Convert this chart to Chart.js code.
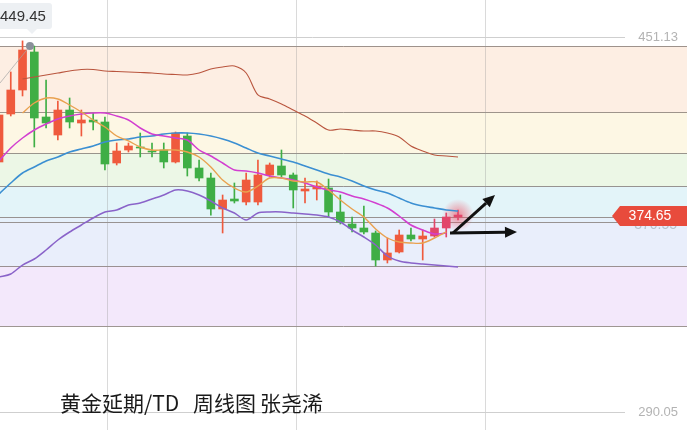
<!DOCTYPE html>
<html>
<head>
<meta charset="utf-8">
<title>黄金延期/TD 周线图</title>
<script src="https://cdn.jsdelivr.net/npm/chart.js"></script>
<style>
  html, body { margin: 0; padding: 0; background: #fff; }
</style>
</head>
<body>
<canvas id="kline" width="690" height="430"></canvas>
<script>
// weekly candles
const opens  = [397.44,418.05,428.36,444.69,416.77,409.03,419.77,414.19,415.48,414.62,397.01,402.59,403.88,402.16,402.59,397.44,408.60,394.86,390.56,377.25,381.54,380.25,380.25,391.85,395.72,391.85,384.98,385.84,386.27,375.96,370.80,369.09,366.94,355.34,358.78,366.08,364.36,365.65,369.09,373.81];
const highs  = [418.91,436.10,449.45,447.26,432.66,423.64,424.93,419.77,418.48,416.77,405.60,405.60,409.89,405.60,405.60,410.32,409.89,398.30,392.71,383.26,388.42,392.71,398.30,397.01,402.59,392.71,390.56,389.27,390.13,383.26,373.81,378.54,367.80,364.79,368.23,369.09,368.23,372.95,375.53,376.82];
const lows   = [396.15,417.20,425.79,403.88,412.04,406.89,412.04,408.60,411.18,394.00,396.15,401.73,399.58,399.58,394.86,397.01,391.42,389.27,374.65,366.94,379.82,378.97,378.97,390.99,390.99,377.68,379.82,381.11,373.81,370.80,367.37,366.51,352.76,354.05,358.35,363.50,355.34,365.22,365.22,372.52];
const closes = [417.63,428.36,445.55,416.34,414.19,419.77,414.62,415.48,414.62,396.58,402.16,404.31,403.45,401.73,397.44,409.89,394.86,390.56,377.25,381.11,380.68,389.70,391.85,396.15,391.85,385.41,385.84,387.13,375.96,371.66,369.09,367.37,355.34,358.35,366.08,364.36,365.65,369.09,373.81,374.65];

// indicator lines
const upperBand = [null,null,433.09,433.95,434.81,435.67,436.53,437.17,437.17,436.53,436.31,436.10,435.88,435.67,435.24,435.02,434.81,435.67,437.38,438.24,438.67,435.67,426.22,424.50,422.35,419.77,417.20,414.19,411.18,411.61,411.18,410.75,410.75,409.89,408.17,404.31,402.16,400.44,400.01,399.58];
const ma5 = [null,null,418.48,422.78,424.93,424.50,421.92,418.91,415.48,412.47,408.60,406.46,403.88,402.59,402.59,402.59,401.73,399.58,395.29,389.70,386.27,384.55,387.13,390.56,390.56,389.27,388.85,388.85,385.41,381.11,377.25,373.81,368.66,364.79,363.07,362.64,362.64,364.79,367.37,null];
const ma10 = [397.87,403.45,407.75,411.18,413.76,415.91,417.20,418.05,418.48,418.48,417.20,415.48,412.04,409.46,408.60,407.75,406.89,402.59,400.01,397.01,394.00,393.57,392.71,391.42,390.56,389.70,388.42,386.70,385.41,384.55,382.83,381.54,379.82,377.68,374.24,370.37,368.23,366.51,366.94,null];
const midBand = [383.69,388.42,392.71,395.29,397.87,399.58,401.73,403.02,404.31,406.03,406.89,407.32,408.17,408.60,409.46,409.89,409.89,409.46,408.60,407.32,405.60,403.45,401.30,400.01,398.72,397.44,395.72,394.00,392.28,390.99,389.27,387.13,385.41,384.12,381.97,379.82,378.54,377.68,376.82,376.39];
const lowerBand = [348.04,349.33,353.19,355.77,359.64,363.93,367.37,370.37,373.38,375.96,376.82,378.97,379.82,381.54,383.26,385.41,384.98,383.26,380.68,377.68,375.53,372.52,375.53,375.96,375.96,375.53,375.10,374.65,373.81,371.66,368.23,365.22,361.78,357.06,354.91,354.05,353.62,353.19,352.76,352.33];

// price levels of the coloured zones
const bandLevels = [447.26, 418.91, 401.30, 387.13, 373.81, 371.66, 352.76, 326.99];
const axisTicks = [451.13, 290.05];
const lastPrice = 374.65;
const prevPrice = 370.55;
const peakPrice = 449.45;

const bandColors = ['#fdeee3', '#fdf7e4', '#ecf7e6', '#e3f4f9', '#e6f0fb', '#e9eefb', '#f3e8fb'];
const monthLines = [9.18, 25.23, 41.29];

const UP = '#ef5a3d', DOWN = '#3fae45', UP_LATE = '#e2466a';
const candleColor = closes.map((c, i) => c >= opens[i] ? (i >= 37 ? UP_LATE : UP) : DOWN);

const xy = arr => arr.map((v, i) => ({ x: i, y: v }));

function arrow(ctx, x1, y1, x2, y2) {
  const ang = Math.atan2(y2 - y1, x2 - x1), len = 12, half = 5.5;
  const bx = x2 - Math.cos(ang) * len, by = y2 - Math.sin(ang) * len;
  ctx.beginPath();
  ctx.moveTo(x1, y1);
  ctx.lineTo(bx, by);
  ctx.lineWidth = 3;
  ctx.strokeStyle = '#111';
  ctx.stroke();
  ctx.beginPath();
  ctx.moveTo(x2, y2);
  ctx.lineTo(bx + Math.sin(ang) * half, by - Math.cos(ang) * half);
  ctx.lineTo(bx - Math.sin(ang) * half, by + Math.cos(ang) * half);
  ctx.closePath();
  ctx.fillStyle = '#111';
  ctx.fill();
}

const backdrop = {
  id: 'backdrop',
  beforeDatasetsDraw(chart) {
    const { ctx, chartArea: a, scales: { x, y } } = chart;
    const right = a.right - 3;
    ctx.save();
    for (let i = 0; i < bandLevels.length - 1; i++) {
      const y1 = y.getPixelForValue(bandLevels[i]);
      const y2 = y.getPixelForValue(bandLevels[i + 1]);
      ctx.fillStyle = bandColors[i];
      ctx.fillRect(a.left, y1, right - a.left, y2 - y1);
    }
    ctx.lineWidth = 1;
    ctx.strokeStyle = 'rgba(125,115,110,0.75)';
    bandLevels.forEach(v => {
      const py = Math.round(y.getPixelForValue(v)) + 0.5;
      ctx.beginPath(); ctx.moveTo(a.left, py); ctx.lineTo(right, py); ctx.stroke();
    });
    ctx.strokeStyle = 'rgba(150,150,150,0.35)';
    monthLines.forEach(v => {
      const px = Math.round(x.getPixelForValue(v)) + 0.5;
      ctx.beginPath(); ctx.moveTo(px, a.top); ctx.lineTo(px, a.bottom); ctx.stroke();
    });
    // reference lines with their labels
    ctx.font = '13px "Liberation Sans", Arial, sans-serif';
    ctx.textAlign = 'right';
    ctx.textBaseline = 'middle';
    axisTicks.forEach(v => {
      const py = Math.round(y.getPixelForValue(v)) + 0.5;
      ctx.strokeStyle = '#cfcfcf';
      ctx.beginPath(); ctx.moveTo(a.left, py); ctx.lineTo(625, py); ctx.stroke();
      ctx.fillStyle = '#b3b3b3';
      ctx.fillText(v.toFixed(2), 678, py);
    });
    // glow on the latest candle
    const gx = x.getPixelForValue(closes.length - 1), gy = y.getPixelForValue(lastPrice);
    const g = ctx.createRadialGradient(gx, gy, 0, gx, gy, 16);
    g.addColorStop(0, 'rgba(240,70,90,0.6)');
    g.addColorStop(1, 'rgba(240,70,90,0)');
    ctx.fillStyle = g;
    ctx.beginPath(); ctx.arc(gx, gy, 16, 0, Math.PI * 2); ctx.fill();
    ctx.restore();
  }
};

const overlay = {
  id: 'overlay',
  afterDatasetsDraw(chart) {
    const { ctx, scales: { x, y } } = chart;
    ctx.save();
    // arrows
    arrow(ctx, x.getPixelForValue(38.57), y.getPixelForValue(366.94), x.getPixelForValue(42.14), y.getPixelForValue(383.26));
    arrow(ctx, x.getPixelForValue(38.32), y.getPixelForValue(366.94), x.getPixelForValue(44.01), y.getPixelForValue(367.37));

    // hidden previous price label, then the red price tag
    const ty = y.getPixelForValue(lastPrice) + 1;
    ctx.font = '14px "Liberation Sans", Arial, sans-serif';
    ctx.textAlign = 'right';
    ctx.textBaseline = 'middle';
    ctx.fillStyle = '#b7c1cb';
    ctx.fillText(prevPrice.toFixed(2), 677, y.getPixelForValue(prevPrice) + 1);
    ctx.fillStyle = '#e84b3c';
    ctx.beginPath();
    ctx.moveTo(612, ty);
    ctx.lineTo(620, ty - 10);
    ctx.lineTo(687, ty - 10);
    ctx.lineTo(687, ty + 10);
    ctx.lineTo(620, ty + 10);
    ctx.closePath();
    ctx.fill();
    ctx.fillStyle = '#fff';
    ctx.textAlign = 'center';
    ctx.fillText(lastPrice.toFixed(2), 650, ty + 0.5);

    // peak marker + tooltip box
    const dx = x.getPixelForValue(2.63), dy = y.getPixelForValue(447.26);
    ctx.strokeStyle = 'rgba(165,165,165,0.7)';
    ctx.lineWidth = 1;
    ctx.beginPath(); ctx.moveTo(0, dy + 37); ctx.lineTo(dx, dy); ctx.stroke();
    ctx.fillStyle = '#8a909a';
    ctx.beginPath(); ctx.arc(dx, dy, 4, 0, Math.PI * 2); ctx.fill();
    ctx.fillStyle = '#edf0f3';
    ctx.beginPath();
    ctx.roundRect(-4, 3, 56, 26, 3);
    ctx.fill();
    ctx.beginPath(); ctx.moveTo(27, 29); ctx.lineTo(37, 29); ctx.lineTo(32, 34); ctx.closePath(); ctx.fill();
    ctx.fillStyle = '#333';
    ctx.font = '15px "Liberation Sans", Arial, sans-serif';
    ctx.textAlign = 'left';
    ctx.fillText(peakPrice.toFixed(2), 0, 17);

    // caption
    ctx.fillStyle = '#1a1a1a';
    ctx.font = '21px "Noto Sans CJK SC", sans-serif';
    ctx.textBaseline = 'alphabetic';
    ctx.fillText('黄金延期/TD', 60, 411);
    ctx.fillText('周线图', 193, 411);
    ctx.fillText('张尧浠', 260, 411);
    ctx.restore();
  }
};

const lineSet = (data, color, w) => ({
  type: 'line', data: xy(data), borderColor: color, borderWidth: w,
  pointRadius: 0, tension: 0.3, fill: false, order: 1
});

new Chart(document.getElementById('kline'), {
  type: 'bar',
  data: {
    datasets: [
      lineSet(upperBand, '#b9553e', 1.1),
      lineSet(ma5, '#e9a14f', 1.4),
      lineSet(ma10, '#d23fd0', 1.5),
      lineSet(midBand, '#3b8fd2', 1.6),
      lineSet(lowerBand, '#8a63c9', 1.5),
      {
        data: opens.map((o, i) => ({ x: i, y: [o, closes[i]] })),
        backgroundColor: candleColor, barThickness: 8, grouped: false, order: 2
      },
      {
        data: lows.map((l, i) => ({ x: i, y: [l, highs[i]] })),
        backgroundColor: candleColor, barThickness: 1, grouped: false, order: 3
      }
    ]
  },
  options: {
    responsive: false,
    animation: false,
    devicePixelRatio: 1,
    layout: { padding: 0 },
    plugins: { legend: { display: false }, tooltip: { enabled: false } },
    scales: {
      x: { type: 'linear', min: 0.085, max: 58.71, offset: false, display: false },
      y: { type: 'linear', min: 282.32, max: 467.02, display: false }
    }
  },
  plugins: [backdrop, overlay]
});
</script>
</body>
</html>
